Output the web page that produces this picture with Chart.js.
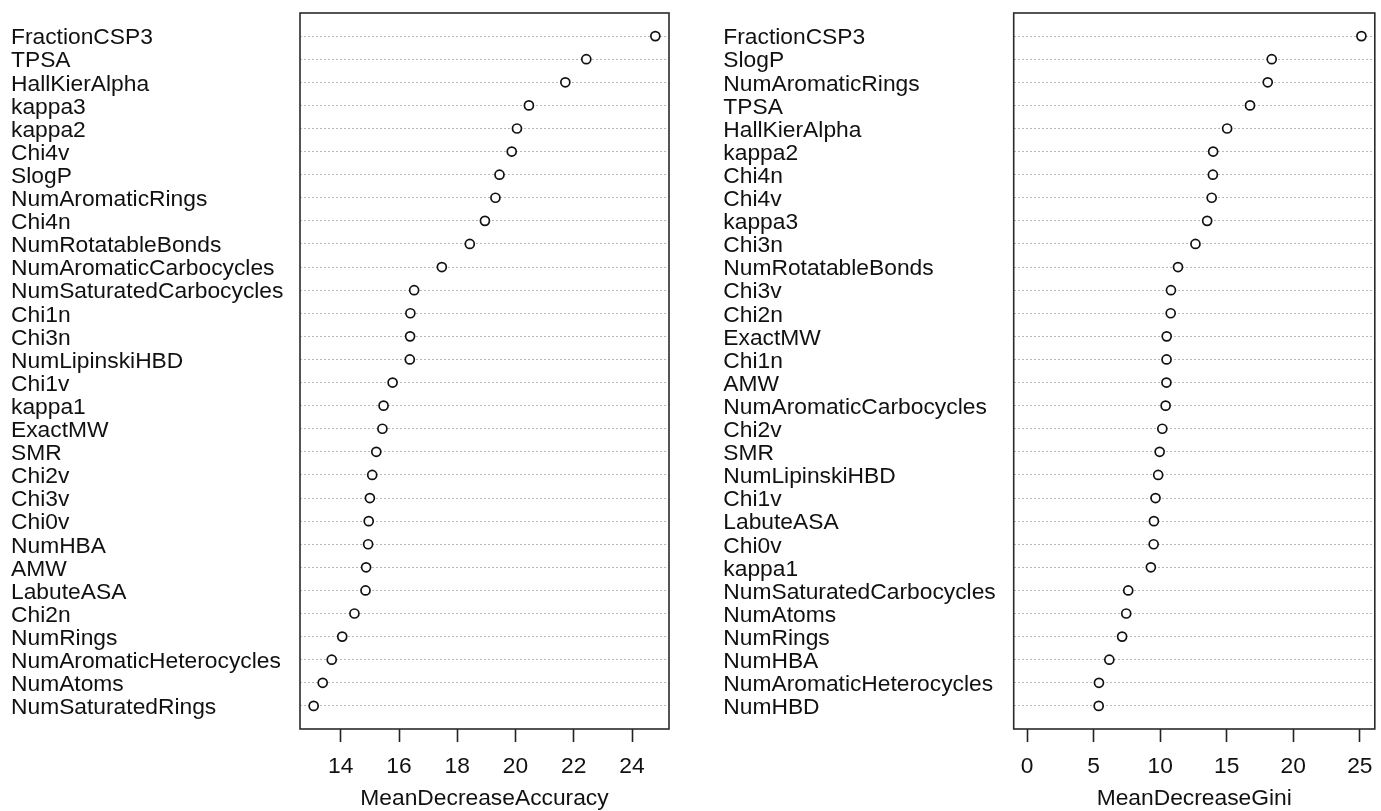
<!DOCTYPE html>
<html>
<head>
<meta charset="utf-8">
<title>Variable importance</title>
<script src="https://cdn.jsdelivr.net/npm/chart.js@4/dist/chart.umd.min.js"></script>
<style>
  html, body { margin: 0; padding: 0; background: #ffffff; }
  #wrap { position: relative; width: 1381px; height: 811px; overflow: hidden; background: #ffffff; }
  canvas { position: absolute; top: 0; }
</style>
</head>
<body>
<div id="wrap">
  <canvas id="accuracy" width="690" height="811" style="left:0px"></canvas>
  <canvas id="gini" width="691" height="811" style="left:690px"></canvas>
</div>
<script>
// Descriptors ranked by MeanDecreaseAccuracy (top row first)
const accuracyNames = [
  "FractionCSP3", "TPSA", "HallKierAlpha", "kappa3", "kappa2", "Chi4v", "SlogP",
  "NumAromaticRings", "Chi4n", "NumRotatableBonds", "NumAromaticCarbocycles",
  "NumSaturatedCarbocycles", "Chi1n", "Chi3n", "NumLipinskiHBD", "Chi1v", "kappa1",
  "ExactMW", "SMR", "Chi2v", "Chi3v", "Chi0v", "NumHBA", "AMW", "LabuteASA", "Chi2n",
  "NumRings", "NumAromaticHeterocycles", "NumAtoms", "NumSaturatedRings"
];
const accuracyValues = [
  24.80, 22.43, 21.71, 20.46, 20.05, 19.87, 19.45,
  19.31, 18.95, 18.43, 17.47,
  16.52, 16.39, 16.38, 16.37, 15.78, 15.47,
  15.43, 15.22, 15.08, 15.00, 14.96, 14.94, 14.87, 14.85, 14.47,
  14.05, 13.69, 13.38, 13.07
];

// Descriptors ranked by MeanDecreaseGini (top row first)
const giniNames = [
  "FractionCSP3", "SlogP", "NumAromaticRings", "TPSA", "HallKierAlpha", "kappa2",
  "Chi4n", "Chi4v", "kappa3", "Chi3n", "NumRotatableBonds", "Chi3v", "Chi2n",
  "ExactMW", "Chi1n", "AMW", "NumAromaticCarbocycles", "Chi2v", "SMR",
  "NumLipinskiHBD", "Chi1v", "LabuteASA", "Chi0v", "kappa1",
  "NumSaturatedCarbocycles", "NumAtoms", "NumRings", "NumHBA",
  "NumAromaticHeterocycles", "NumHBD"
];
const giniValues = [
  25.12, 18.38, 18.08, 16.75, 15.03, 13.98,
  13.96, 13.87, 13.53, 12.65, 11.34, 10.81, 10.79,
  10.49, 10.48, 10.47, 10.41, 10.16, 9.96,
  9.85, 9.65, 9.53, 9.51, 9.30,
  7.60, 7.45, 7.14, 6.18,
  5.40, 5.38
];

// Axis tick labels
const accuracyTicks = [14, 16, 18, 20, 22, 24];
const giniTicks = [0, 5, 10, 15, 20, 25];

const FONT = "'Liberation Sans', Arial, Helvetica, sans-serif";
const TEXT = "#111111";
const SIZE = 22.8;

// Frame around the plotting region
const framePlugin = {
  id: "frame",
  afterDatasetsDraw(chart) {
    const { ctx, chartArea: a } = chart;
    ctx.save();
    ctx.strokeStyle = "#2a2a2a";
    ctx.lineWidth = 1.6;
    ctx.strokeRect(a.left, a.top, a.right - a.left, a.bottom - a.top);
    ctx.restore();
  }
};

function dotChart(id, names, values, tickValues, xTitle, lo, hi, geo) {
  const n = names.length;
  const ext = (hi - lo) * 0.04;
  return new Chart(document.getElementById(id), {
    type: "scatter",
    data: {
      datasets: [{
        data: values.map((v, i) => ({ x: v, y: n - i })),
        pointStyle: "circle",
        pointRadius: 4.5,
        pointHoverRadius: 4.5,
        borderColor: "#111111",
        backgroundColor: "#ffffff",
        borderWidth: 1.7,
        pointBorderWidth: 1.7
      }]
    },
    options: {
      responsive: false,
      animation: false,
      devicePixelRatio: 1,
      events: [],
      layout: { padding: { left: geo.left, right: geo.right, top: 13, bottom: 0 } },
      plugins: { legend: { display: false }, tooltip: { enabled: false } },
      scales: {
        x: {
          type: "linear",
          position: "bottom",
          min: lo - ext,
          max: hi + ext,
          afterBuildTicks: s => { s.ticks = tickValues.map(v => ({ value: v })); },
          afterFit: s => { s.height = 82; s.paddingLeft = 0; s.paddingRight = 0; },
          grid: {
            drawOnChartArea: false,
            drawTicks: true,
            tickLength: 13,
            tickColor: "#222222",
            tickWidth: 1.6
          },
          border: { display: false },
          ticks: {
            autoSkip: false,
            maxRotation: 0,
            padding: 11,
            color: TEXT,
            font: { family: FONT, size: SIZE },
            callback: v => String(v)
          },
          title: {
            display: true,
            text: xTitle,
            color: TEXT,
            font: { family: FONT, size: SIZE, lineHeight: 1 },
            padding: { top: 0, bottom: 1 }
          }
        },
        y: {
          type: "linear",
          min: 0,
          max: n + 1,
          afterBuildTicks: s => { s.ticks = names.map((_, i) => ({ value: i + 1 })); },
          afterFit: s => { s.width = geo.yWidth; s.paddingTop = 0; s.paddingBottom = 0; },
          grid: { drawTicks: false, color: "#b8b8b8", lineWidth: 1 },
          border: { display: false, dash: [2, 2] },
          ticks: {
            autoSkip: false,
            crossAlign: "far",
            labelOffset: 2,
            color: TEXT,
            font: { family: FONT, size: SIZE },
            callback: v => names[n - v]
          }
        }
      }
    },
    plugins: [framePlugin]
  });
}

dotChart("accuracy", accuracyNames, accuracyValues, accuracyTicks, "MeanDecreaseAccuracy",
  Math.min(...accuracyValues), Math.max(...accuracyValues),
  { left: 11, yWidth: 289, right: 21 });

dotChart("gini", giniNames, giniValues, giniTicks, "MeanDecreaseGini",
  0, Math.max(...giniValues),
  { left: 33.3, yWidth: 290.4, right: 1 });
</script>
</body>
</html>
